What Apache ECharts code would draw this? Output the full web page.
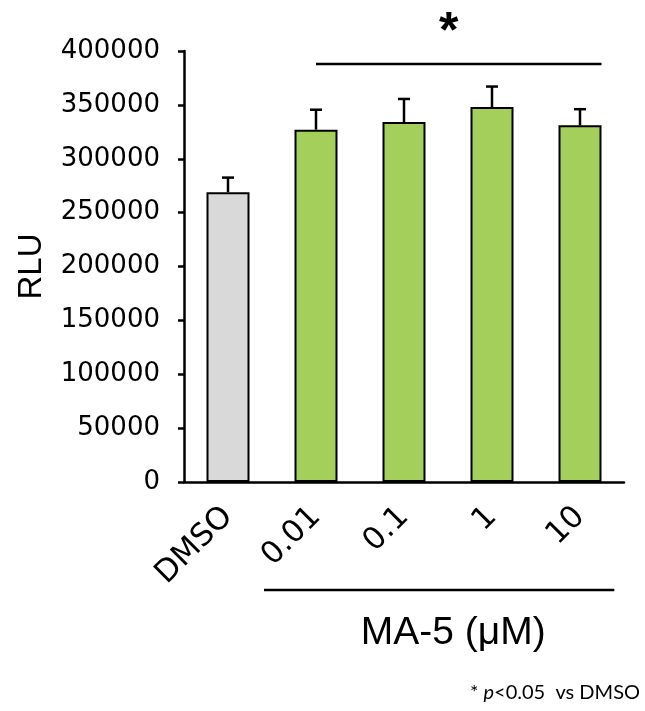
<!DOCTYPE html>
<html>
<head>
<meta charset="utf-8">
<script src="https://cdn.jsdelivr.net/npm/echarts@6/dist/echarts.min.js"></script>
<style>html,body{margin:0;padding:0;background:#fff}#chart{width:645px;height:711px}</style>
</head>
<body>
<div id="chart"></div>
<script>
const categories = ['DMSO', '0.01', '0.1', '1', '10'];
const means = [269000, 327000, 334000, 348000, 331000];
const errors = [13500, 18500, 21500, 19000, 15000];
const barColors = ['#d9d9d9', '#a4cf5b', '#a4cf5b', '#a4cf5b', '#a4cf5b'];
const yMin = 0, yMax = 400000, yInterval = 50000;
const sigFrom = 1, sigTo = 4, sigValue = 388000, sigStarValue = 428000;
const groupLabel = 'MA-5 (\u03bcM)';

const chart = echarts.init(document.getElementById('chart'), null, {renderer: 'canvas'});
const BAR_W = 43;

const option = {
  backgroundColor: '#fff',
  animation: false,
  grid: {left: 184, right: 21, top: 51, bottom: 229, containLabel: false},
  xAxis: {
    type: 'category',
    data: categories,
    axisLine: {lineStyle: {color: '#000', width: 2.5}},
    axisTick: {show: false},
    axisLabel: {rotate: 45, margin: 30, color: '#000', fontSize: 31, fontFamily: 'DejaVu Sans'}
  },
  yAxis: {
    type: 'value',
    min: yMin, max: yMax, interval: yInterval,
    name: 'RLU',
    nameLocation: 'middle',
    nameGap: 136,
    nameRotate: 90,
    nameTextStyle: {color: '#000', fontSize: 33, fontFamily: 'Liberation Sans'},
    splitLine: {show: false},
    axisLine: {show: true, lineStyle: {color: '#000', width: 2.5}},
    axisTick: {show: true, length: 6, lineStyle: {color: '#000', width: 2.5}},
    axisLabel: {margin: 24, color: '#000', fontSize: 26, fontFamily: 'DejaVu Sans',
      formatter: function (v) { return String(v); }}
  },
  series: [
    {
      type: 'bar',
      barWidth: BAR_W,
      data: means.map((v, i) => ({value: v, itemStyle: {color: barColors[i], borderColor: '#000', borderWidth: 2}})),
      z: 2
    },
    {
      type: 'custom',
      z: 3,
      data: means.map((v, i) => [i, v, v + errors[i]]),
      renderItem: function (params, api) {
        const x = api.coord([api.value(0), api.value(1)]);
        const top = api.coord([api.value(0), api.value(2)]);
        const cap = 6;
        const st = {stroke: '#000', lineWidth: 2.5};
        return {
          type: 'group',
          children: [
            {type: 'line', shape: {x1: x[0], y1: x[1], x2: top[0], y2: top[1]}, style: st},
            {type: 'line', shape: {x1: top[0] - cap, y1: top[1], x2: top[0] + cap, y2: top[1]}, style: st}
          ]
        };
      }
    }
  ]
};
chart.setOption(option);

function px(cat, val) { return chart.convertToPixel({gridIndex: 0}, [cat, val]); }
const s1 = px(sigFrom, sigValue), s2 = px(sigTo, sigValue);
const star = px((sigFrom + sigTo) / 2, sigStarValue);
const g0 = px(0, 0), g1 = px(1, 0), g4 = px(4, 0);
const bandW = g1[0] - g0[0];
const grpLeft = (g0[0] + g1[0]) / 2 - 8;
const grpRight = g4[0] + bandW * 0.39;
const grpY = g0[1] + 108;

chart.setOption({
  graphic: [
    {type: 'line', shape: {x1: s1[0], y1: s1[1], x2: s2[0] + BAR_W / 2, y2: s2[1]}, style: {stroke: '#000', lineWidth: 2.5}},
    {type: 'text', x: (s1[0] + s2[0] + BAR_W / 2) / 2 - 10, y: star[1] + 12, style: {text: '*', fill: '#000', font: 'bold 50px Liberation Sans', textAlign: 'center', textVerticalAlign: 'middle'}},
    {type: 'line', shape: {x1: grpLeft, y1: grpY, x2: grpRight, y2: grpY}, style: {stroke: '#000', lineWidth: 2.5}},
    {type: 'text', x: (grpLeft + grpRight) / 2 + 14, y: grpY + 43, style: {text: groupLabel, fill: '#000', font: '39px Liberation Sans', textAlign: 'center', textVerticalAlign: 'middle'}},
    {type: 'text', x: 640, y: 693, style: {
      text: '{n|* }{i|p}{n|<0.05  vs DMSO}',
      textAlign: 'right', textVerticalAlign: 'middle',
      rich: {
        n: {fontSize: 20, fontFamily: 'Lato', fill: '#000', color: '#000'},
        i: {fontSize: 20, fontFamily: 'Lato', fontStyle: 'italic', fill: '#000', color: '#000'}
      }
    }}
  ]
});
</script>
</body>
</html>
